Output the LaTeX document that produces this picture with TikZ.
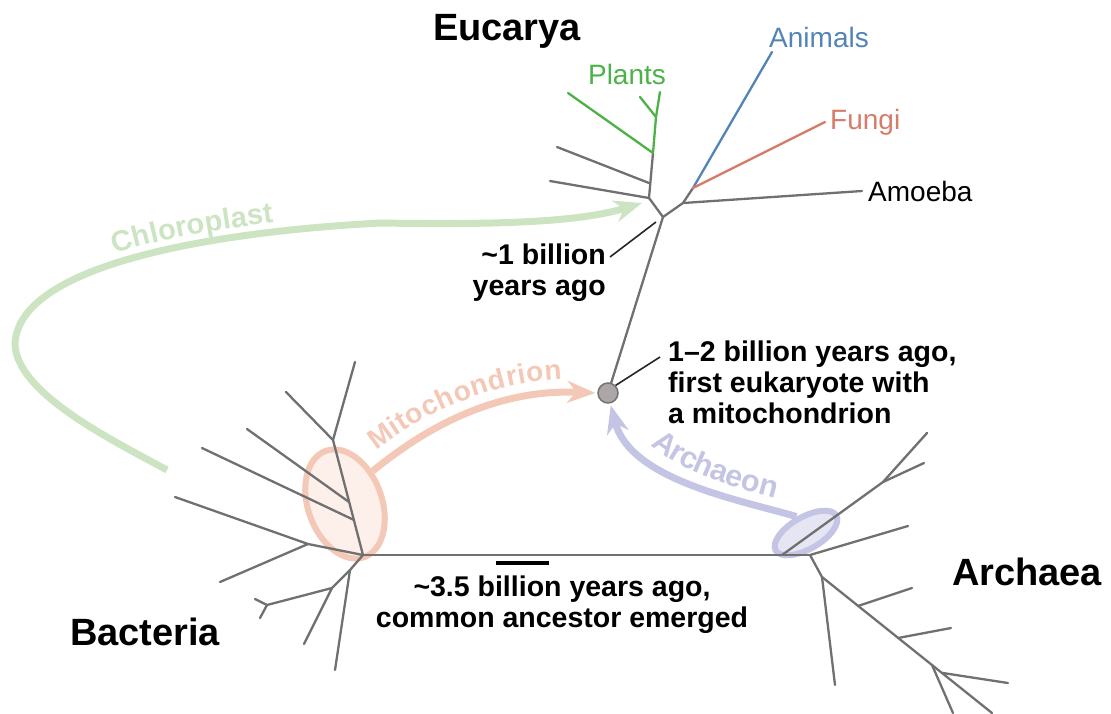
\documentclass[tikz,border=0pt]{standalone}
\usepackage{fontspec}
\setmainfont{Liberation Sans}
\usetikzlibrary{arrows.meta, positioning, shapes.geometric, decorations.text}
\definecolor{treegray}{RGB}{112,112,112}
\definecolor{plantgreen}{RGB}{76,178,72}
\definecolor{animalblue}{RGB}{82,132,182}
\definecolor{fungired}{RGB}{214,124,104}
\definecolor{chlorogreen}{RGB}{204,228,194}
\definecolor{mitored}{RGB}{244,200,182}
\definecolor{mitofill}{RGB}{253,239,233}
\definecolor{archblue}{RGB}{196,196,228}
\definecolor{archfill}{RGB}{229,229,244}
\definecolor{eukgray}{RGB}{172,166,166}
\newcommand{\transferfont}{\bfseries\fontsize{28}{28}\selectfont}
\tikzset{
  treeline/.style={draw=treegray, line width=2.3pt, line cap=round, line join=round},
  plantline/.style={treeline, draw=plantgreen},
  animalline/.style={treeline, draw=animalblue},
  fungiline/.style={treeline, draw=fungired},
  ring/.style={ellipse, line width=6pt, inner sep=0pt},
  transfer/.style={line width=7pt, -{Stealth[length=28pt, width=22pt, inset=9pt]}},
  notepointer/.style={draw=black!85, line width=1.6pt},
  scalebar/.style={draw=black, line width=4pt},
  domainlabel/.style={font=\bfseries\fontsize{38}{40}\selectfont, inner sep=0pt},
  notelabel/.style={font=\bfseries\fontsize{28.5}{31}\selectfont, inner sep=0pt},
  taxonlabel/.style={font=\fontsize{28}{30}\selectfont, inner sep=0pt}
}

\begin{document}
\begin{tikzpicture}[x=1pt, y=-1pt]
  \useasboundingbox (0,0) rectangle (1111,713);

  % host rings
  \node[ring, draw=mitored, fill=mitofill, minimum width=74pt, minimum height=113pt, rotate=20] (mring) at (345,504) {};
  \node[ring, draw=archblue, fill=archfill, minimum width=70pt, minimum height=32pt, rotate=30] (aring) at (806,533) {};

  % bacteria
  \coordinate (b0) at (363,555);
  \coordinate (b1) at (333,440);
  \coordinate (b1a) at (349,502);
  \coordinate (b1b) at (354,520);
  \coordinate (b2) at (308,544);
  \coordinate (b3) at (350,570);
  \coordinate (b4) at (332,588);
  \coordinate (b5) at (267,605);
  \draw[treeline] (b0) -- (b1) -- (355,362);
  \draw[treeline] (b1) -- (286,392);
  \draw[treeline] (b1a) -- (247,429);
  \draw[treeline] (b1b) -- (202,448);
  \draw[treeline] (b0) -- (b2) -- (175,497);
  \draw[treeline] (b2) -- (220,582);
  \draw[treeline] (b0) -- (b3) -- (335,670);
  \draw[treeline] (b3) -- (b4) -- (304,644);
  \draw[treeline] (b4) -- (b5) -- (255,599);
  \draw[treeline] (b5) -- (260,618);

  % archaea
  \coordinate (a0) at (810,555);
  \coordinate (a1) at (782,555);
  \coordinate (a1b) at (883,482);
  \coordinate (a2) at (822,577);
  \coordinate (a3) at (858,606);
  \coordinate (a4) at (898,638);
  \coordinate (a5) at (932,665);
  \coordinate (a6) at (943,673);
  \draw[treeline] (b0) -- (a0);
  \draw[treeline] (a1) -- (a1b) -- (927,433);
  \draw[treeline] (a1b) -- (924,463);
  \draw[treeline] (a0) -- (908,526);
  \draw[treeline] (a0) -- (a2) -- (835,685);
  \draw[treeline] (a2) -- (992,713);
  \draw[treeline] (a3) -- (912,588);
  \draw[treeline] (a4) -- (951,628);
  \draw[treeline] (a5) -- (953,713);
  \draw[treeline] (a6) -- (1008,683);

  % eucarya
  \node[circle, draw=black!55, fill=eukgray, line width=1.5pt, minimum size=20pt, inner sep=0pt] (euk) at (608,393) {};
  \coordinate (j1) at (663,217);
  \coordinate (j2) at (649,198);
  \coordinate (j2b) at (649,183);
  \coordinate (g1) at (653,153);
  \coordinate (g2) at (656,117);
  \coordinate (j3) at (683,203);
  \coordinate (j4) at (693,188);
  \coordinate (animaltip) at (772,52);
  \coordinate (fungitip) at (825,122);
  \coordinate (amoebatip) at (862,191);
  \draw[treeline] (euk) -- (j1);
  \draw[treeline] (j1) -- (j2) -- (g1);
  \draw[treeline] (j2) -- (550,181);
  \draw[treeline] (j2b) -- (557,147);
  \draw[plantline] (g1) -- (g2) -- (660,92);
  \draw[plantline] (g1) -- (568,93);
  \draw[plantline] (g2) -- (640,97);
  \draw[treeline] (j1) -- (j3) -- (amoebatip);
  \draw[treeline] (j3) -- (j4);
  \draw[animalline] (j4) -- (animaltip);
  \draw[fungiline] (j4) -- (fungitip);

  % labels
  \node[domainlabel] (eucarya) at (507,31) {Eucarya};
  \node[domainlabel] (bacteria) at (145,632) {Bacteria};
  \node[domainlabel] (archaea) at (1027,572) {Archaea};
  \node[taxonlabel, text=plantgreen] (plants) at (627,74) {Plants};
  \node[taxonlabel, text=animalblue] (animals) at (819,37) {Animals};
  \node[taxonlabel, text=fungired, right=5pt of fungitip] (fungi) {Fungi};
  \node[taxonlabel, right=6pt of amoebatip] (amoeba) {Amoeba};

  \node[notelabel, align=right, anchor=north east] (onebn) at (606,244) {\textasciitilde1 billion\\years ago};
  \node[notelabel, align=left, anchor=north west] (firsteuk) at (668,341) {1--2 billion years ago,\\first eukaryote with\\a mitochondrion};
  \node[notelabel, align=center, anchor=north] (ancestor) at (562,576) {\textasciitilde3.5 billion years ago,\\common ancestor emerged};
  \draw[scalebar] (496,563) -- (549,563);

  \coordinate (onebnptr) at (656,222);
  \coordinate (firsteukptr) at (660,357);
  \draw[notepointer] (610,257) -- (onebnptr);
  \draw[notepointer] (euk.45) -- (firsteukptr);

  % transfers
  \coordinate (chlstart) at (167,470);
  \coordinate (chlend) at (642,203);
  \draw[transfer, chlorogreen, postaction={decorate, decoration={text along path, raise=9pt,
      text align={left indent=342pt}, text={|\bfseries\fontsize{29}{29}\selectfont\color{chlorogreen}|Chloroplast}}}]
    (chlstart) .. controls (114,441) and (15,393) .. (15,343)
    .. controls (20,265) and (210,232) .. (380,223)
    .. controls (500,225) and (580,222) .. (chlend);
  \draw[transfer, mitored, postaction={decorate, decoration={text along path, raise=14pt,
      text align={left indent=15pt}, text={|\transferfont\color{mitored}|Mitochondrion}}}]
    (mring.30) .. controls (405,445) and (480,388) .. ([xshift=-2pt]euk.west);
  \draw[transfer, archblue] (aring.north) .. controls (740,500) and (630,480) .. ([yshift=-2pt]euk.-75);
  \path[decorate, decoration={text along path, raise=12pt, text align={left indent=62pt},
      text={|\bfseries\fontsize{30.5}{30.5}\selectfont\color{archblue}|Archaeon}}]
    (euk.-75) .. controls (630,480) and (740,500) .. (aring.north);
\end{tikzpicture}
\end{document}
